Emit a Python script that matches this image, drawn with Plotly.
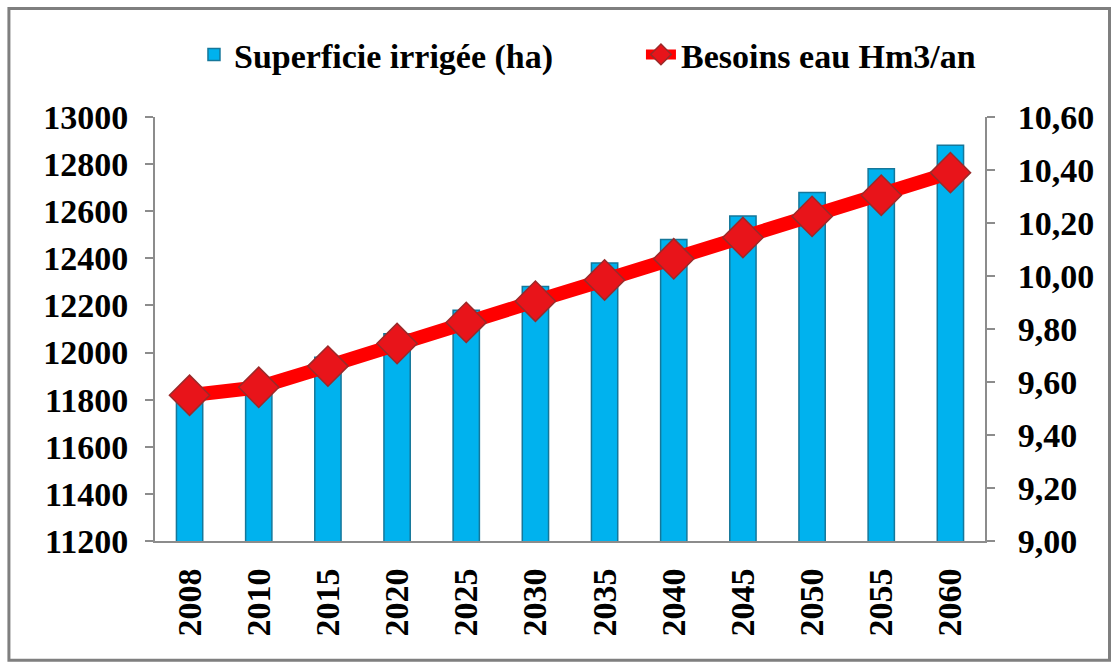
import plotly.graph_objects as go

# Irrigated area and water needs by year
annees = ["2008", "2010", "2015", "2020", "2025", "2030", "2035", "2040", "2045", "2050", "2055", "2060"]
superficie_ha = [11820, 11880, 11980, 12080, 12180, 12280, 12380, 12480, 12580, 12680, 12780, 12880]
besoins_hm3 = [9.55, 9.58, 9.66, 9.745, 9.825, 9.905, 9.985, 10.065, 10.145, 10.225, 10.305, 10.39]

gauche_ticks = list(range(11200, 13001, 200))
droite_ticks = [9.0, 9.2, 9.4, 9.6, 9.8, 10.0, 10.2, 10.4, 10.6]

police = "Liberation Serif"
gris = "#8c8c8c"


def texte(taille):
    return dict(family=police, size=taille, color="black", weight="bold")


def legende(x):
    return dict(
        orientation="h",
        xref="container", yref="container",
        x=x, xanchor="left",
        y=0.918, yanchor="middle",
        font=texte(34),
        bgcolor="rgba(0,0,0,0)",
    )


fig = go.Figure()

fig.add_trace(go.Bar(
    x=annees,
    y=superficie_ha,
    name="Superficie irrigée (ha)",
    marker=dict(color="#00B2EE", line=dict(color="#15779A", width=1.5)),
    width=0.38,
    yaxis="y",
    legend="legend",
))

fig.add_trace(go.Scatter(
    x=annees,
    y=besoins_hm3,
    name="Besoins eau Hm3/an",
    mode="lines+markers",
    line=dict(color="#FF0000", width=14),
    marker=dict(symbol="diamond", size=31, color="#E8141A",
                line=dict(color="#9A2A2A", width=1.5)),
    yaxis="y2",
    legend="legend2",
))

fig.update_layout(
    width=1118,
    height=668,
    margin=dict(l=155, r=133, t=117, b=127, autoexpand=False),
    paper_bgcolor="white",
    plot_bgcolor="white",
    separators=", ",
    font=texte(34),
    showlegend=True,
    legend=legende(0.1735),
    legend2=legende(0.5733),
    xaxis=dict(
        type="category",
        range=[-0.5, 11.5],
        tickangle=-90,
        tickfont=texte(34),
        showline=True, linecolor=gris, linewidth=2,
        ticks="", showgrid=False,
        ticklabelstandoff=12,
    ),
    yaxis=dict(
        range=[11200, 13000],
        tickvals=gauche_ticks,
        tickformat=".0f",
        tickfont=texte(34),
        showline=True, linecolor=gris, linewidth=2,
        ticks="outside", ticklen=8, tickcolor=gris, tickwidth=1.5,
        showgrid=False, zeroline=False,
        ticklabelstandoff=10,
    ),
    yaxis2=dict(
        range=[9.0, 10.6],
        tickvals=droite_ticks,
        tickformat=".2f",
        overlaying="y",
        side="right",
        tickfont=texte(34),
        showline=True, linecolor=gris, linewidth=2,
        ticks="outside", ticklen=8, tickcolor=gris, tickwidth=1.5,
        showgrid=False, zeroline=False,
        ticklabelstandoff=16,
    ),
    shapes=[dict(
        type="rect", xref="paper", yref="paper",
        x0=-0.176, x1=1.15, y0=-0.281, y1=1.256,
        line=dict(color="#7f7f7f", width=3),
        fillcolor="rgba(0,0,0,0)",
        layer="below",
    )],
)

fig.write_html("out.html")
